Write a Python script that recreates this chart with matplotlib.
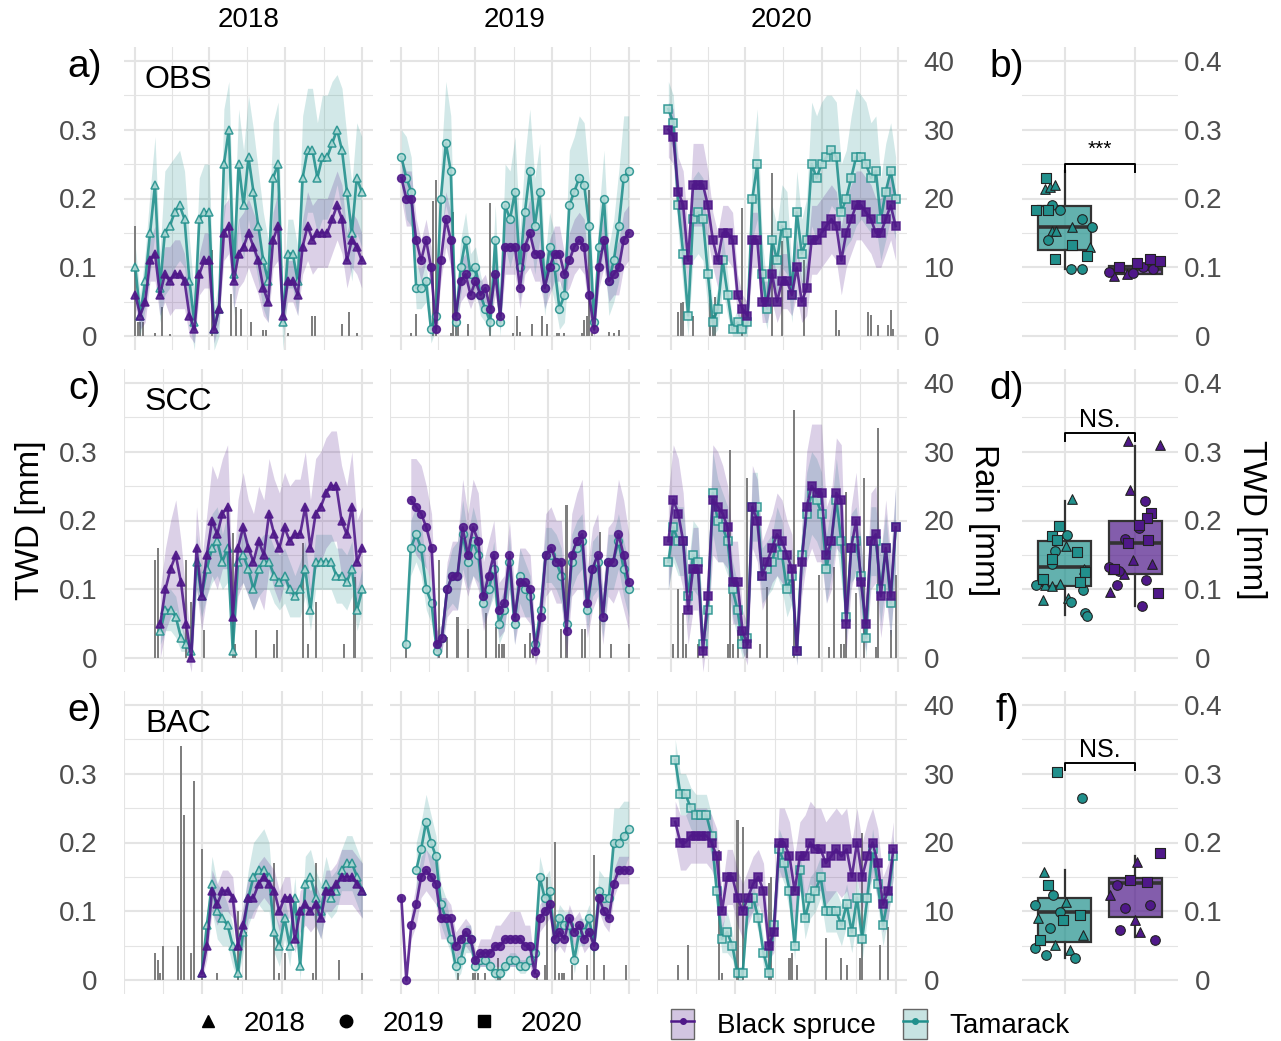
import numpy as np
import matplotlib
matplotlib.use('Agg')
import matplotlib.pyplot as plt
from matplotlib.lines import Line2D
from matplotlib.patches import Patch
from matplotlib.colors import to_rgba
from matplotlib.legend_handler import HandlerTuple

plt.rcParams['font.family'] = ['Liberation Sans', 'DejaVu Sans']

PURPLE = '#4f1889'
TEAL = '#21908c'
TEAL_FACE = '#b5dcd9'
TXT = '#4d4d4d'
GRID = '#e4e4e4'

sites = ['OBS', 'SCC', 'BAC']
years = [2018, 2019, 2020]
year_marker = {2018: '^', 2019: 'o', 2020: 's'}

# days counted from 1 June; TWD in 1/100 mm, one value every 2 days
# ---- OBS 2018
obs18_bs = [6,3,5,11,12,6,9,8,9,9,8,3,1,9,11,11,1,4,15,16,8,12,13,15,13,11,7,5,14,16,3,8,8,6,13,16,14,15,15,15,17,19,17,11,14,13,11]
obs18_bs_sd = [2,2,3,3,4,3,4,5,5,5,4,3,2,3,4,4,2,2,4,4,4,5,5,5,5,5,4,3,4,5,2,3,3,3,4,5,5,5,5,5,5,5,5,4,4,4,4]
obs18_tam = [10,3,8,15,22,7,15,16,18,19,17,8,2,17,18,18,1,4,25,30,9,25,19,26,21,16,11,8,23,25,2,12,12,8,23,27,27,23,26,26,28,30,27,21,15,23,21]
obs18_tam_sd = [3,3,4,6,7,5,9,9,8,8,7,6,4,6,7,7,3,4,8,7,6,8,8,9,9,8,7,6,8,9,4,5,5,5,9,9,9,8,9,9,9,8,9,8,7,8,8]
obs18_rain_day = [0,1,2,3,8,11,14,31,39,41,43,47,52,53,62,72,73,84,87,90]
obs18_rain = [16,2,2,2,0.4,4.3,0.3,12.5,6.2,4.3,4,2,0.9,0.9,0.4,2.9,3,1.8,3.5,0.4]

# ---- OBS 2019
obs19_bs = [23,20,20,14,11,14,10,1,11,17,14,3,8,9,6,8,6,7,4,9,3,13,13,13,7,13,15,12,12,7,10,12,12,9,11,13,14,13,6,1,10,14,8,9,10,14,15]
obs19_bs_sd = [3,4,4,3,3,3,3,1,3,4,4,2,3,3,2,2,2,2,2,3,2,4,4,4,3,4,5,4,4,3,4,4,4,3,4,4,4,4,3,1,3,4,3,3,4,4,4]
obs19_tam = [26,23,21,7,7,8,1,3,20,28,24,2,10,14,9,10,6,4,2,14,2,19,17,21,10,18,24,16,21,7,13,10,4,6,19,21,23,22,16,2,13,20,8,11,16,23,24]
obs19_tam_sd = [4,6,5,3,3,3,2,2,5,9,8,2,4,4,3,3,3,2,2,5,2,6,7,8,5,8,9,7,7,4,5,5,3,4,8,8,9,9,7,2,5,7,5,6,8,9,8]
obs19_rain_day = [4,6,13,14,20,21,22,23,27,36,45,47,48,53,57,59,63,64,66,73,74,75,76,77,84,86,88]
obs19_rain = [0.4,3.3,19.6,22.7,0.4,18.1,2,1.8,1.8,19.3,0.4,3,0.6,1.8,3,1.8,0.4,0.4,0.4,0.4,2.3,3,21.3,0.4,0.6,0.4,0.9]

# ---- OBS 2020
obs20_bs = [30,29,21,19,11,22,22,22,19,14,11,15,15,14,6,4,3,14,14,5,5,9,5,8,8,6,10,5,7,14,14,15,16,17,16,11,15,17,19,19,18,17,15,15,17,19,16]
obs20_bs_sd = [4,4,5,5,4,6,6,6,5,4,4,4,4,4,3,2,2,4,4,3,3,4,3,4,4,3,4,3,4,5,5,5,5,5,5,5,5,5,5,5,5,5,5,5,5,5,5]
obs20_tam = [33,31,19,12,3,17,18,17,9,2,4,11,6,1,2,1,2,20,25,9,4,14,11,16,15,6,18,12,14,25,23,25,26,27,26,18,20,23,26,26,25,23,24,17,21,24,20]
obs20_tam_sd = [4,4,4,5,3,6,6,6,5,2,3,4,3,1,2,1,2,6,8,5,3,5,5,6,6,4,6,5,6,9,9,9,9,8,8,7,7,9,10,9,9,8,8,6,7,7,6]
obs20_rain_day = [3,4,5,9,16,17,18,29,41,45,54,67,68,80,81,84,88,89,90]
obs20_rain = [3.5,4.8,5,2.9,6.7,3.1,5.7,18.6,23.7,13.8,11.1,3.8,0.9,3.5,3.1,1.6,1.6,3.8,1.1]

# ---- SCC 2018
scc18_bs = [5,10,13,15,11,5,0,16,9,15,20,18,21,22,6,16,19,16,14,17,15,21,18,16,19,17,18,18,22,16,21,22,24,25,25,20,18,22,14,16]
scc18_bs_sd = [5,6,7,8,6,4,2,6,5,6,8,8,8,9,4,7,8,7,7,8,8,8,8,8,8,8,8,8,8,7,8,8,8,8,8,8,7,8,6,6]
scc18_tam = [4,7,7,6,3,2,1,14,9,13,16,17,14,16,1,14,15,13,10,13,14,14,12,11,12,10,9,10,13,7,14,14,14,14,12,12,11,13,7,10]
scc18_tam_sd = [2,3,3,3,2,1,1,4,3,4,5,5,4,5,1,4,4,4,3,4,4,4,4,4,4,4,3,4,4,3,4,4,4,4,4,4,4,4,3,3]
scc18_rain_day = [12,13,24,26,31,42,43,51,58,59,69,71,74,85,89]
scc18_rain = [14.3,16,14.3,8.2,4.1,18.2,2,4.1,2,4.1,16.7,2,8.2,2,11.8]

# ---- SCC 2019
scc19_bs = [23,22,21,19,16,2,3,10,12,12,19,15,19,17,9,12,15,7,8,15,6,11,11,10,1,6,15,16,14,14,4,15,17,18,8,13,15,6,14,14,18,15,11]
scc19_bs_sd = [6,7,7,6,5,2,2,4,5,5,7,6,7,7,5,5,5,4,4,5,4,5,5,5,2,4,6,6,6,6,4,6,7,8,5,6,6,4,5,6,8,8,7]
scc19_tam = [2,16,18,16,10,8,1,3,10,12,12,18,14,17,15,8,10,13,5,7,14,5,12,10,9,2,7,15,15,14,12,5,14,16,17,7,13,14,6,14,14,17,13,10]
scc19_tam_sd = [2,4,4,4,3,3,1,2,3,4,5,5,4,5,4,3,3,4,3,3,4,3,4,4,3,1,3,4,4,4,4,3,4,4,4,3,4,4,3,4,4,4,4,4]
scc19_rain_day = [6,19,22,26,30,37,41,42,43,44,52,54,55,66,68,74,75,81,85,92]
scc19_rain = [2.1,14.3,3.1,6,4.3,6.5,4.6,2.1,2.1,2.1,2.1,3.6,0.7,4.3,22.3,4.3,4.3,18.4,2.1,2.1]

# ---- SCC 2020
scc20_bs = [17,23,21,17,7,13,13,1,9,23,22,21,19,11,11,4,2,22,20,12,14,16,18,17,15,13,1,14,22,25,24,24,15,17,24,23,5,16,20,11,5,17,18,9,16,9,19]
scc20_bs_sd = [7,8,8,7,5,6,6,3,5,8,8,7,6,6,6,3,3,6,6,5,5,5,6,6,5,5,2,5,8,9,10,10,7,7,8,8,4,6,7,6,4,7,7,6,7,6,6]
scc20_tam = [14,19,17,17,9,15,14,2,7,24,20,19,17,10,7,2,3,22,22,12,13,14,17,15,10,12,1,15,21,24,23,21,13,17,23,17,6,16,17,12,3,17,17,10,16,8,19]
scc20_tam_sd = [4,5,5,5,4,5,5,2,4,6,6,5,5,4,4,2,2,5,5,4,4,4,5,5,4,4,2,4,6,6,6,6,5,5,6,6,3,5,5,5,3,5,5,5,5,5,6]
scc20_rain_day = [1,3,5,6,11,13,23,24,25,27,31,36,39,50,60,64,66,69,70,71,75,78,83,84,89,91]
scc20_rain = [2.1,10.1,6.5,2.1,2.1,1.7,2.1,30.3,2.1,4.1,26.2,2.1,10.4,36.1,12.1,1.7,13.3,2.1,2.1,24.2,9.4,26.2,1.7,33.4,4.1,12.1]

# ---- BAC 2018
bac18_bs = [1,5,13,11,13,13,12,5,8,12,12,14,15,14,13,10,12,12,6,10,11,10,11,9,13,13,14,15,15,15,14,13]
bac18_bs_sd = [1,2,3,3,3,3,3,2,3,3,3,3,3,3,3,3,3,3,2,3,3,3,3,3,3,3,3,4,4,4,4,4]
bac18_tam = [1,8,14,10,9,8,5,1,7,12,15,16,16,15,7,5,9,5,12,2,14,15,12,10,14,12,13,16,17,17,15,13]
bac18_tam_sd = [1,2,4,4,4,3,3,1,3,4,5,5,6,5,3,3,3,3,3,2,4,4,4,4,4,3,3,3,4,4,4,4]
bac18_rain_day = [12,13,14,15,21,22,23,26,27,30,36,44,47,58,60,62,73,74,83,92]
bac18_rain = [4,3,1,5,5,34,24,4,29,19,1,10,7,17,1,4,1,17,3,1]

# ---- BAC 2019
bac19_bs = [12,0,8,11,15,16,15,14,9,9,9,5,6,7,6,3,4,4,4,5,5,6,6,6,6,5,5,1,9,10,11,6,7,6,9,7,8,6,7,5,12,10,9,14,16,16,16]
bac19_bs_sd = [1,1,2,3,3,3,3,3,3,3,2,2,2,2,2,1,2,2,2,3,3,3,4,4,4,3,3,1,2,2,2,2,2,2,2,2,2,2,2,1,2,2,2,2,2,2,2]
bac19_tam = [16,19,23,20,18,11,9,6,2,3,6,6,2,3,3,2,1,1,2,3,3,2,2,3,4,15,12,13,6,9,8,8,3,7,7,9,5,13,12,12,20,20,21,22]
bac19_tam_sd = [4,4,4,4,3,3,3,2,2,2,2,2,1,1,1,1,1,1,1,1,1,1,1,1,2,3,3,3,2,2,2,2,2,2,2,2,2,3,3,3,5,5,5,4]
bac19_rain_day = [23,29,30,31,34,39,40,55,58,59,62,64,65,66,69,75,78,82,91]
bac19_rain = [1,1,1,1,1,3.2,1,1,2.2,15,20.1,1,1,1,2.2,2.2,18.2,2.2,2.2]

# ---- BAC 2020
bac20_bs = [23,20,20,21,21,21,21,20,18,10,15,15,12,10,12,14,15,13,5,7,20,20,18,13,18,18,20,19,19,17,18,19,18,19,15,20,15,18,20,17,11,13,19]
bac20_bs_sd = [3,4,4,4,4,4,4,4,4,3,4,4,4,4,4,4,4,4,2,3,5,5,5,5,5,6,6,6,6,6,6,6,6,6,5,5,5,5,5,5,4,4,4]
bac20_tam = [32,27,27,25,24,24,24,21,13,6,7,5,1,1,11,12,9,4,1,8,19,17,13,5,16,9,12,13,15,10,10,10,8,11,7,12,6,12,19,14,8,12,18]
bac20_tam_sd = [3,3,3,3,3,3,3,3,3,2,3,2,1,1,2,2,2,2,1,2,3,3,3,2,3,3,3,3,3,3,3,3,3,3,3,3,3,3,3,3,3,3,3]
bac20_rain_day = [8,12,24,25,31,33,43,44,51,52,54,65,71,73,78,79,86,89]
bac20_rain = [2.2,5.1,18.9,1,23.3,22.3,14.1,15,3.2,3.9,2.2,6.1,3.2,2.2,3.2,21.4,5.1,7.8]

# per-tree mean TWD (1/100 mm): box stats [whislo, q1, med, q3, whishi], jitter, year
obs_tam_box = [9.7, 12.5, 15.8, 18.9, 24.0]
obs_bs_box = [8.6, 9.1, 9.7, 10.2, 11.0]
scc_tam_box = [6.3, 10.5, 13.3, 17.0, 22.9]
scc_bs_box = [7.6, 12.3, 16.7, 20.0, 30.8]
bac_tam_box = [3.2, 5.5, 9.9, 11.9, 16.0]
bac_bs_box = [6.3, 9.2, 14.1, 14.8, 18.0]

obs_tam_x = [-0.26,-0.27,-0.2,-0.14,-0.18,-0.40,-0.23,-0.06,0.25,0.39,0.11,-0.17,-0.12,-0.23,0.11,0.36,-0.13,0.31,0.09,0.24]
obs_tam_y = [23,21.4,21.7,22,19.1,18.3,18.3,18.4,17,15.8,15.8,15.3,15.3,14,13.3,12.9,11.2,11.6,9.7,9.8]
obs_tam_yr = [2020,2018,2018,2018,2019,2020,2020,2019,2019,2019,2018,2018,2018,2019,2020,2018,2020,2020,2019,2019]
obs_bs_x = [-0.37,-0.3,-0.23,-0.12,-0.03,0.02,0.11,0.2,0.25,0.35]
obs_bs_y = [9.3,8.8,10,9.1,9.2,10.6,10,11.2,9.8,10.9]
obs_bs_yr = [2019,2018,2020,2018,2019,2020,2019,2020,2019,2020]

scc_tam_x = [0.1,-0.08,-0.17,-0.11,0.04,0.02,-0.14,0.17,-0.17,-0.17,0.28,0.29,-0.31,0.22,-0.4,-0.27,-0.17,-0.06,0.26,-0.31,0.05,0.09,0.29,0.32]
scc_tam_y = [23.1,19.2,17.7,17.1,17.9,16.3,15.5,15.4,14.4,13.7,12.9,12.5,11.5,11.1,10.7,10.7,10.5,10.8,9.9,8.5,8.7,8.2,6.6,6.2]
scc_tam_yr = [2018,2020,2020,2020,2019,2018,2019,2020,2020,2019,2018,2020,2020,2020,2019,2018,2018,2018,2019,2018,2018,2019,2019,2019]
scc_bs_x = [-0.1,0.34,-0.08,0.14,0.22,0.16,0.05,0.05,0.17,-0.15,-0.11,-0.04,0.23,-0.37,-0.3,-0.23,-0.16,0.15,-0.26,-0.36,0.32,0.09]
scc_bs_y = [31.6,30.9,24.5,22.9,21.1,20.3,18.9,19.4,17.1,17.3,16.7,14.3,13.7,13.2,12.9,12.7,12.3,11.3,10.7,9.6,9.4,7.6]
scc_bs_yr = [2018,2018,2018,2019,2020,2020,2019,2020,2020,2019,2020,2018,2018,2019,2020,2019,2018,2019,2019,2018,2020,2019]

bac_tam_x = [-0.1,0.24,-0.29,-0.23,-0.16,0.02,-0.41,-0.06,-0.38,0.22,-0.02,-0.2,0.26,-0.34,-0.13,-0.42,0.07,-0.26,0.15]
bac_tam_y = [30.3,26.5,15.7,13.8,12.4,11.3,10.9,9.9,9,9.5,8.7,7.6,6.5,5.8,5.1,4.7,4.4,3.6,3.2]
bac_tam_yr = [2020,2019,2018,2020,2019,2018,2019,2019,2018,2020,2020,2019,2018,2020,2018,2019,2018,2019,2019]
bac_bs_x = [0.35,0.02,-0.07,0.16,-0.26,-0.36,0.21,-0.15,0.0,0.07,0.28,-0.22]
bac_bs_y = [18.5,17.2,14.5,14.3,13.8,12.4,10.9,10.5,8.7,7,5.8,7.3]
bac_bs_yr = [2020,2018,2020,2020,2019,2018,2019,2019,2018,2018,2019,2019]

sig_label = ['***', 'NS.', 'NS.']
sig_height = [25.0, 32.7, 31.6]

# ---------------------------------------------------------------- tables
panels = {
    ('OBS', 2018): ((0, 92), 0, obs18_bs, obs18_bs_sd, 0, obs18_tam, obs18_tam_sd, obs18_rain_day, obs18_rain),
    ('OBS', 2019): ((0, 92), 0, obs19_bs, obs19_bs_sd, 0, obs19_tam, obs19_tam_sd, obs19_rain_day, obs19_rain),
    ('OBS', 2020): ((-1, 91), -1, obs20_bs, obs20_bs_sd, -1, obs20_tam, obs20_tam_sd, obs20_rain_day, obs20_rain),
    ('SCC', 2018): ((9, 92), 14, scc18_bs, scc18_bs_sd, 14, scc18_tam, scc18_tam_sd, scc18_rain_day, scc18_rain),
    ('SCC', 2019): ((6, 92), 8, scc19_bs, scc19_bs_sd, 6, scc19_tam, scc19_tam_sd, scc19_rain_day, scc19_rain),
    ('SCC', 2020): ((-1, 91), -1, scc20_bs, scc20_bs_sd, -1, scc20_tam, scc20_tam_sd, scc20_rain_day, scc20_rain),
    ('BAC', 2018): ((9, 92), 30, bac18_bs, bac18_bs_sd, 30, bac18_tam, bac18_tam_sd, bac18_rain_day, bac18_rain),
    ('BAC', 2019): ((0, 92), 0, bac19_bs, bac19_bs_sd, 6, bac19_tam, bac19_tam_sd, bac19_rain_day, bac19_rain),
    ('BAC', 2020): ((7, 92), 7, bac20_bs, bac20_bs_sd, 7, bac20_tam, bac20_tam_sd, bac20_rain_day, bac20_rain),
}
boxes = {
    'OBS': (obs_tam_box, obs_bs_box, (obs_tam_x, obs_tam_y, obs_tam_yr), (obs_bs_x, obs_bs_y, obs_bs_yr)),
    'SCC': (scc_tam_box, scc_bs_box, (scc_tam_x, scc_tam_y, scc_tam_yr), (scc_bs_x, scc_bs_y, scc_bs_yr)),
    'BAC': (bac_tam_box, bac_bs_box, (bac_tam_x, bac_tam_y, bac_tam_yr), (bac_bs_x, bac_bs_y, bac_bs_yr)),
}

W, H = 1281, 1041
fig = plt.figure(figsize=(W / 100, H / 100), dpi=100)


def rect(x0, x1, y0, y1):
    return [x0 / W, 1 - y1 / H, (x1 - x0) / W, (y1 - y0) / H]


col_px = [(124, 373), (390, 640), (657, 907)]
box_px = (1022, 1178)
row_px = [(47, 350), (369, 672), (691, 994)]


def style(ax):
    for sp in ax.spines.values():
        sp.set_visible(False)
    ax.set_ylim(-0.02, 0.42)
    ax.set_yticks([0, 0.1, 0.2, 0.3, 0.4])
    ax.set_yticks([0.05, 0.15, 0.25, 0.35], minor=True)
    ax.grid(which='major', color=GRID, lw=1.5)
    ax.grid(which='minor', color=GRID, lw=0.8)
    ax.set_axisbelow(True)
    ax.tick_params(which='both', length=0, labelbottom=False, labelsize=20, labelcolor=TXT)


def series(ax, start, vals, sd, color, face, marker, z):
    x = start + 2 * np.arange(len(vals))
    v = np.array(vals) / 100
    s = np.array(sd) / 100
    ax.fill_between(x, v - s, v + s, color=color, alpha=0.2, lw=0, zorder=2)
    ms = 5.6 if marker == 'o' else 5.2
    ax.plot(x, v, color=color, lw=1.9, alpha=0.88, marker=marker, ms=ms,
            mfc=face, mec=color, mew=1.1, zorder=z)


for r, site in enumerate(sites):
    for c, yr in enumerate(years):
        (s, e), bs0, bs, bs_sd, tam0, tam, tam_sd, rday, rain = panels[(site, yr)]
        ax = fig.add_axes(rect(*col_px[c], *row_px[r]))
        style(ax)
        pad = 0.05 * (e - s)
        ax.set_xlim(s - pad, e + pad)
        ax.set_xticks([0, 30, 61, 92])
        ax.set_xticks([15, 45.5, 76.5], minor=True)
        ax.bar(rday, np.array(rain) / 100, width=0.8, color='#7f7f7f', zorder=1)
        m = year_marker[yr]
        series(ax, tam0, tam, tam_sd, TEAL, TEAL_FACE, m, 3)
        series(ax, bs0, bs, bs_sd, PURPLE, PURPLE, m, 4)
        if c == 0:
            ax.set_yticklabels(['0', '0.1', '0.2', '0.3', ''])
            ax.tick_params(axis='y', pad=19)
        else:
            ax.tick_params(axis='y', labelleft=False)
        if c == 2:
            sec = ax.secondary_yaxis('right', functions=(lambda v: v * 100, lambda v: v / 100))
            sec.set_yticks([0, 10, 20, 30, 40])
            sec.tick_params(length=0, pad=12, labelsize=20, labelcolor=TXT)
            sec.spines['right'].set_visible(False)

    # boxplot panel
    tam_box, bs_box, tam_pts, bs_pts = boxes[site]
    ax = fig.add_axes(rect(*box_px, *row_px[r]))
    style(ax)
    ax.set_xlim(0.4, 2.6)
    ax.set_xticks([1, 2])
    ax.yaxis.tick_right()
    ax.set_yticklabels(['0', '0.1', '0.2', '0.3', '0.4'])
    for lab in ax.get_yticklabels():
        lab.set_horizontalalignment('center')
    ax.tick_params(axis='y', pad=18)
    for pos, st, col in [(1, tam_box, TEAL), (2, bs_box, PURPLE)]:
        stats = [dict(whislo=st[0] / 100, q1=st[1] / 100, med=st[2] / 100,
                      q3=st[3] / 100, whishi=st[4] / 100, fliers=[])]
        ax.bxp(stats, positions=[pos], widths=0.76, patch_artist=True, showcaps=False,
               boxprops=dict(facecolor=to_rgba(col, 0.7), edgecolor='#333333', lw=1.6),
               medianprops=dict(color='#333333', lw=2.6),
               whiskerprops=dict(color='#333333', lw=1.6), manage_ticks=False)
    for pos, (px, py, pyr), col in [(1, tam_pts, TEAL), (2, bs_pts, PURPLE)]:
        for yr in years:
            xs = [pos + a for a, y_ in zip(px, pyr) if y_ == yr]
            ys = [b / 100 for b, y_ in zip(py, pyr) if y_ == yr]
            ax.scatter(xs, ys, marker=year_marker[yr], s=48, facecolor=col,
                       edgecolor='#222222', lw=0.8, zorder=5)
    top = sig_height[r] / 100
    ax.plot([1, 1, 2, 2], [top - 0.011, top, top, top - 0.011], color='black', lw=1.4, zorder=6)
    if sig_label[r] == '***':
        ax.text(1.5, top + 0.022, sig_label[r], ha='center', va='center', fontsize=15)
    else:
        ax.text(1.5, top + 0.019, sig_label[r], ha='center', va='center', fontsize=18)

# column titles
for c, yr in enumerate(years):
    x0, x1 = col_px[c]
    fig.text((x0 + x1) / 2 / W, 1 - 20 / H, str(yr), ha='center', va='center', fontsize=20)

# panel letters and site names
letters = [('a)', 'b)'), ('c)', 'd)'), ('e)', 'f)')]
for r, site in enumerate(sites):
    y0 = row_px[r][0]
    fig.text(85 / W, 1 - (y0 + 20) / H, letters[r][0], ha='center', va='center', fontsize=28)
    fig.text(1007 / W, 1 - (y0 + 20) / H, letters[r][1], ha='center', va='center', fontsize=28)
    fig.text(178 / W, 1 - (y0 + 33) / H, site, ha='center', va='center', fontsize=23)

# axis titles
fig.text(30 / W, 1 - 520 / H, 'TWD [mm]', rotation=90, ha='center', va='center', fontsize=24)
fig.text(983 / W, 1 - 520 / H, 'Rain [mm]', rotation=270, ha='center', va='center', fontsize=24)
fig.text(1252 / W, 1 - 520 / H, 'TWD [mm]', rotation=270, ha='center', va='center', fontsize=24)

# legends
h1 = [Line2D([], [], ls='', marker=year_marker[y], color='black', ms=9) for y in years]
fig.legend(h1, [str(y) for y in years], loc='center', bbox_to_anchor=(388 / W, 1 - 1024 / H),
           ncol=3, frameon=False, fontsize=20, handlelength=1.0, handletextpad=0.8,
           columnspacing=0.95)
h2 = [(Patch(facecolor=to_rgba(col, 0.25), edgecolor='#666666'),
       Line2D([], [], color=col, marker='o', ms=4, lw=1.8))
      for col in (PURPLE, TEAL)]
fig.legend(h2, ['Black spruce', 'Tamarack'], loc='center', bbox_to_anchor=(870 / W, 1 - 1024 / H),
           ncol=2, frameon=False, fontsize=20, handler_map={tuple: HandlerTuple(ndivide=1)},
           handlelength=0.85, handleheight=1.3, handletextpad=0.8, columnspacing=1.0)

fig.savefig('out.png', dpi=100)
